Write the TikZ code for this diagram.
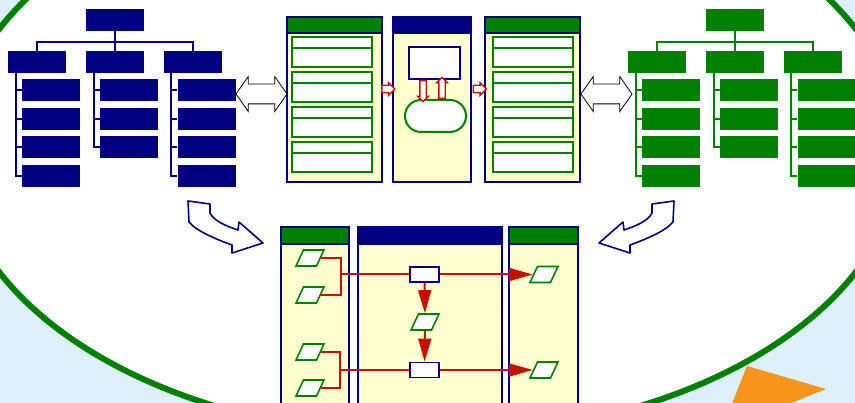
\documentclass[tikz,border=0pt]{standalone}
\usetikzlibrary{arrows.meta,shapes.geometric,shapes.arrows,shapes.misc}

\definecolor{navy}{RGB}{0,0,128}
\definecolor{leaf}{RGB}{0,128,0}
\definecolor{paper}{RGB}{255,255,208}
\definecolor{sky}{RGB}{223,240,253}
\definecolor{flow}{RGB}{196,18,0}
\definecolor{amber}{RGB}{248,148,26}

\tikzset{
  orgbox/.style={rectangle, inner sep=0pt, minimum width=58pt, minimum height=22pt},
  spine/.style={line width=2pt},
  panel/.style={rectangle, draw=navy, fill=paper, line width=1.8pt, inner sep=0pt},
  panelhead/.style={rectangle, draw=navy, line width=1.8pt, inner sep=0pt, minimum height=16pt},
  entry/.style={rectangle, draw=leaf, fill=white, line width=2pt, inner sep=0pt, minimum width=80pt, minimum height=30pt},
  swap/.style={double arrow, draw=black, fill=white, line width=0.8pt, inner xsep=0pt, inner ysep=9.5pt, minimum height=51pt, double arrow head extend=7.5pt, double arrow tip angle=110},
  hop/.style={single arrow, draw=flow, fill=white, line width=1.4pt, inner xsep=0pt, inner ysep=3pt, minimum height=13pt, single arrow head extend=2.5pt},
  datum/.style={trapezium, trapezium left angle=65, trapezium right angle=115, draw=leaf, fill=white, line width=1.6pt, inner xsep=6.5pt, inner ysep=8pt},
  task/.style={rectangle, draw=navy, fill=white, line width=1.8pt, inner sep=0pt, minimum width=29pt, minimum height=15pt},
  flowline/.style={draw=flow, line width=2pt},
  bentarrow/.style={draw=navy, fill=white, line width=1.6pt, line join=round},
}

\begin{document}
\begin{tikzpicture}[x=1pt, y=-1pt, node distance=28.5pt]
\useasboundingbox (0,0) rectangle (855,403);
\clip (0,0) rectangle (855,403);

% backdrop and ring
\fill[sky] (0,0) rectangle (855,403);
\draw[leaf, line width=6pt, fill=white] (427.5,150.5) ellipse [x radius=473, y radius=286];

% the two trees
\foreach \t/\col/\dx in {l/navy/0, r/leaf/620} {
  \begin{scope}[xshift=\dx]
    \node[orgbox, fill=\col] (\t-top) at (115,20) {};
    \node[orgbox, fill=\col] (\t-a) at (37,62) {};
    \node[orgbox, fill=\col] (\t-b) at (115,62) {};
    \node[orgbox, fill=\col] (\t-c) at (192.5,62) {};
    \coordinate (\t-bar) at ([yshift=9pt]\t-b.north);
    \draw[spine, \col] (\t-top) -- (\t-b);
    \draw[spine, \col] (\t-a.north) |- (\t-bar) -| (\t-c.north);
    \foreach \p/\n in {a/4, b/3, c/4}
      \foreach \k in {1,...,\n} {
        \node[orgbox, fill=\col, below of=\t-\p, xshift=14pt, yshift={-(\k-1)*28.5pt}] (\t-\p\k) {};
        \draw[spine, \col] ([xshift=8pt]\t-\p.south west) |- (\t-\p\k.west);
      }
  \end{scope}
}

% upper panels
\node[panel, minimum width=95pt, minimum height=165pt] (inA) at (334.5,99.5) {};
\node[panelhead, fill=leaf, minimum width=95pt, anchor=north] (inA-h) at (inA.north) {};
\node[panel, minimum width=78pt, minimum height=165pt] (core) at (432,99.5) {};
\node[panelhead, fill=navy, minimum width=78pt, anchor=north] (core-h) at (core.north) {};
\node[panel, minimum width=95pt, minimum height=165pt] (outA) at (532.5,99.5) {};
\node[panelhead, fill=leaf, minimum width=95pt, anchor=north] (outA-h) at (outA.north) {};

\foreach \k in {1,...,4} {
  \node[entry] (inA-\k) at (332,{52+35*(\k-1)}) {};
  \node[entry] (outA-\k) at (532.5,{52+35*(\k-1)}) {};
  \draw[leaf, line width=2pt] ([yshift=-12pt]inA-\k.north west) -- ([yshift=-12pt]inA-\k.north east);
  \draw[leaf, line width=2pt] ([yshift=-12pt]outA-\k.north west) -- ([yshift=-12pt]outA-\k.north east);
}

\node[task, minimum width=51pt, minimum height=32pt] (store) at (434.5,63) {};
\node[rounded rectangle, draw=leaf, fill=white, line width=2pt, inner sep=0pt, minimum width=61pt, minimum height=32pt] (pool) at (435.5,116) {};
\node[hop, rotate=-90, minimum height=21pt, inner ysep=2.5pt, single arrow head extend=2pt] (fetch) at (423,89.5) {};
\node[hop, rotate=90, minimum height=21pt, inner ysep=2.5pt, single arrow head extend=2pt] (put) at (442,89.5) {};
\node[hop] (feed) at (386.5,89) {};
\node[hop] (emit) at (478,89) {};

\node[swap] (swapL) at (261.5,94) {};
\node[swap] (swapR) at (606.5,94) {};

% bent arrows down to the flow
\foreach \s/\dx in {1/0, -1/862} {
  \begin{scope}[shift={(\dx,0)}, xscale=\s]
    \draw[bentarrow] (188,201) -- (210,204) -- (210,213) .. controls (214,221) and (226,226) .. (238,230)
      -- (239,222) -- (263,243) -- (232,253) -- (232,245) .. controls (218,240) and (196,231) .. (189,222) -- cycle;
  \end{scope}
}

% lower panels
\node[panel, minimum width=68pt, minimum height=190pt, anchor=north] (srcP) at (315,226) {};
\node[panelhead, fill=leaf, minimum width=68pt, minimum height=17pt, anchor=north] (srcP-h) at (srcP.north) {};
\node[panel, minimum width=144pt, minimum height=190pt, anchor=north] (dataP) at (430,226) {};
\node[panelhead, fill=navy, minimum width=144pt, minimum height=17pt, anchor=north] (dataP-h) at (dataP.north) {};
\node[panel, minimum width=69pt, minimum height=190pt, anchor=north] (dstP) at (543.5,226) {};
\node[panelhead, fill=leaf, minimum width=69pt, minimum height=17pt, anchor=north] (dstP-h) at (dstP.north) {};

\node[datum] (s1) at (310,258) {};
\node[datum] (s2) at (310,295) {};
\node[datum] (s3) at (310,352) {};
\node[datum] (s4) at (310,388) {};
\node[task] (r1) at (424.5,274.5) {};
\node[datum] (m1) at (425,322) {};
\node[task] (r2) at (424.5,370) {};
\node[datum] (d1) at (544,274.5) {};
\node[datum] (d2) at (544,370) {};
\coordinate (j1) at (341,274.5);
\coordinate (j2) at (340,370);

\draw[flowline] (s1.east) -| (j1) |- (s2.east);
\draw[flowline] (s3.east) -| (j2) |- (s4.east);
\draw[flowline] (j1) -- (r1);
\draw[flowline] (j2) -- (r2);
\draw[flowline, -{Triangle[length=24pt, width=13pt]}] (r1) -- (d1);
\draw[flowline, -{Triangle[length=24pt, width=13pt]}] (r2) -- (d2);
\draw[flowline, -{Triangle[length=23pt, width=13pt]}] (r1) -- (m1);
\draw[flowline, -{Triangle[length=23pt, width=13pt]}] (m1) -- (r2);

\fill[amber] (747,366) -- (826,389) -- (721,431) -- cycle;
\end{tikzpicture}
\end{document}
